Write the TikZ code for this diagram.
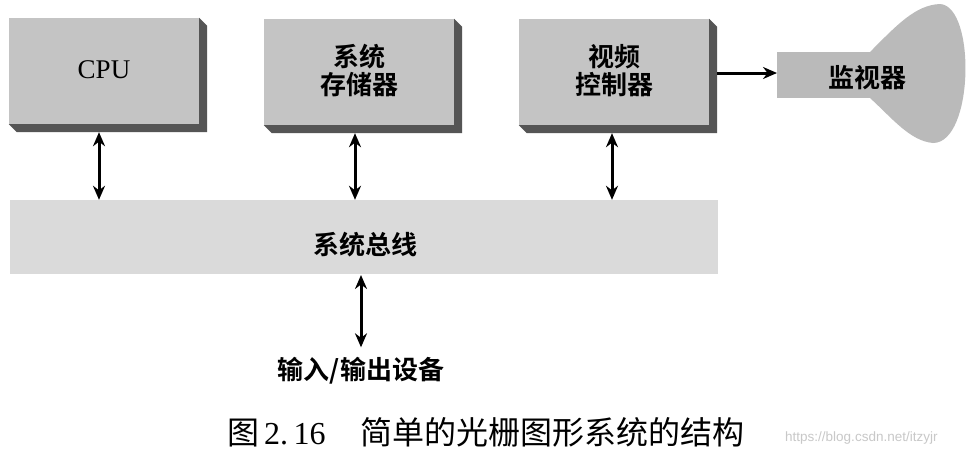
\documentclass[tikz,border=0pt]{standalone}
\usepackage{fontspec}
\setmainfont{Liberation Serif}
\newfontfamily\cjk{Noto Sans CJK SC}
\newfontfamily\cjkb{Noto Sans CJK SC Bold}
\newfontfamily\wmfont{Liberation Sans}
\usetikzlibrary{arrows.meta,calc}
\definecolor{facec}{RGB}{196,196,196}
\definecolor{shadc}{RGB}{85,85,85}
\definecolor{busc}{RGB}{218,218,218}
\definecolor{monc}{RGB}{186,186,186}
\definecolor{wmc}{RGB}{200,200,200}
\tikzset{
  facebox/.style={fill=facec, minimum width=190pt, minimum height=106pt, inner sep=0pt, align=center, font=\cjkb\fontsize{26}{28}\selectfont},
  lbl/.style={inner sep=0pt, align=center, font=\cjkb\fontsize{26}{28}\selectfont},
  dblarrow/.style={line width=3pt, {Stealth[length=14pt,width=12pt]}-{Stealth[length=14pt,width=12pt]}},
  onearrow/.style={line width=3pt, -{Stealth[length=14pt,width=12pt]}},
}
\newcommand{\boxshadow}[1]{%
  \fill[shadc] (#1.north east) -- ++(8,8) -- ($(#1.south east)+(8,8)$) -- ($(#1.south west)+(8,8)$) -- (#1.south west) -- cycle;}
\begin{document}
\begin{tikzpicture}[x=1pt,y=-1pt]
\useasboundingbox[fill=white] (0,0) rectangle (970,458);
% boxes
\node[facebox] (cpu) at (104,71) {};
\node[facebox] (mem) at (359,72) {};
\node[facebox] (vid) at (614,72) {};
\boxshadow{cpu}
\boxshadow{mem}
\boxshadow{vid}
\node[facebox] at (cpu) {};
\node[facebox] at (mem) {};
\node[facebox] at (vid) {};
\node[lbl, font=\rmfamily\fontsize{27}{28}\selectfont] (cpul) at (104,70) {CPU};
\node[lbl] (meml) at (359,71) {系统\\存储器};
\node[lbl] (vidl) at (614,71) {视频\\控制器};
% bus
\node[fill=busc, minimum width=708pt, minimum height=74pt, inner sep=0pt] (bus) at (364,237) {};
\node[lbl] (busl) at (365,245) {系统总线};
% monitor
\fill[monc] (870,52) .. controls (896,26) and (915,5) .. (940,4)
  .. controls (976,6) and (974,143) .. (933,143)
  .. controls (910,141) and (892,118) .. (870,98) -- cycle;
\node[fill=monc, minimum width=95pt, minimum height=46pt, inner sep=0pt, anchor=north west] (mon) at (777,52) {};
\node[lbl] (monl) at (867,78) {监视器};
% connectors
\draw[dblarrow] ($(cpu.south)+(-5,8)$) coordinate (c1) -- (c1 |- bus.north);
\draw[dblarrow] ($(mem.south)+(-4,8)$) coordinate (m1) -- (m1 |- bus.north);
\draw[dblarrow] ($(vid.south)+(-2,8)$) coordinate (v1) -- (v1 |- bus.north);
\draw[onearrow] ($(vid.east)+(8,1)$) coordinate (v2) -- (v2 -| mon.west);
\node[lbl] (io) at (361,371) {输入/输出设备};
\draw[dblarrow] (361,275) coordinate (b1) -- ($(io.north)+(0,-10)$);
% caption
\node[inner sep=0pt, anchor=west] (cap) at (227,432) {\fontsize{32}{34}\selectfont\makebox[37pt][l]{\cjk 图}\makebox[96pt][l]{2.\,16}{\cjk 简单的光栅图形系统的结构}};
\node[font=\wmfont\fontsize{13.5}{15}\selectfont, text=wmc, inner sep=0pt, anchor=west] (wm) at (785,438) {https://blog.csdn.net/itzyjr};
\end{tikzpicture}
\end{document}
